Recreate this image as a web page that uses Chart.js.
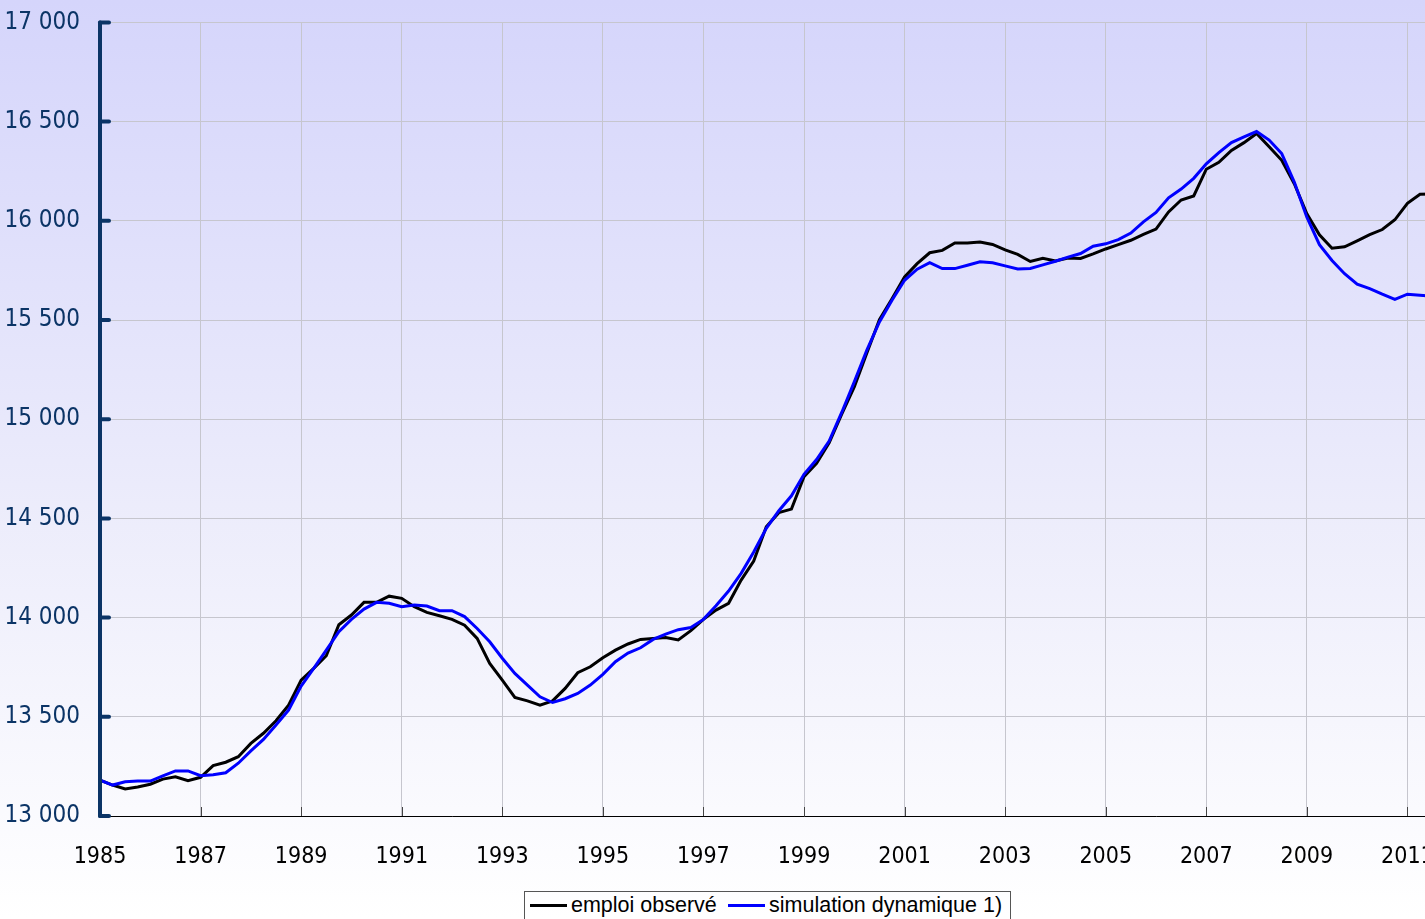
<!DOCTYPE html>
<html>
<head>
<meta charset="utf-8">
<script src="https://cdn.jsdelivr.net/npm/chart.js@4/dist/chart.umd.min.js"></script>
<style>
  html, body { margin: 0; padding: 0; width: 1425px; height: 919px; overflow: hidden; }
  body { background: linear-gradient(to bottom, #d5d5fb 0%, #ececfb 55%, #ffffff 100%); position: relative; }
  #wrap { position: absolute; left: 0; top: -12px; width: 1520px; height: 892px; }
  #legend { position: absolute; left: 524px; top: 891px; width: 487px; height: 40px; border: 1px solid #555;
    font-family: 'Liberation Sans', Arial, sans-serif; font-size: 21.5px; color: #000; box-sizing: border-box; }
  .item { position: absolute; top: 1px; white-space: nowrap; }
  .swatch { display: inline-block; width: 37px; height: 3px; vertical-align: middle; margin-right: 4px; position: relative; top: -1px; }
</style>
</head>
<body>
<div id="wrap"><canvas id="c" width="1520" height="892"></canvas></div>
<div id="legend">
  <span class="item" style="left:5px"><span class="swatch" style="background:#000"></span>emploi observé</span>
  <span class="item" style="left:203px"><span class="swatch" style="background:#0000ff"></span>simulation dynamique 1)</span>
</div>
<script>
// Quarterly series, starting 1985 Q1 (thousands of jobs)
const startYear = 1985;
const seriesNames = ['emploi observé', 'simulation dynamique 1)'];
const emploiObserve = [
  13181,13156,13136,13146,13160,13186,13198,13178,13195,13254,13271,13299,13366,13417,13480,13559,
  13685,13744,13808,13964,14013,14077,14077,14108,14097,14055,14026,14009,13991,13962,13895,13769,
  13685,13598,13580,13559,13580,13643,13722,13752,13798,13836,13867,13890,13895,13900,13887,13934,
  13991,14038,14072,14189,14285,14458,14529,14547,14710,14777,14881,15026,15163,15334,15502,15607,
  15717,15784,15839,15851,15888,15888,15893,15881,15853,15831,15795,15811,15798,15812,15810,15833,
  15858,15880,15902,15931,15958,16045,16105,16125,16260,16295,16355,16394,16440,16373,16305,16187,
  16035,15929,15862,15869,15899,15930,15956,16005,16088,16134,16135
];
const simulationDynamique = [
  13181,13156,13173,13176,13176,13202,13227,13227,13203,13208,13218,13266,13328,13386,13459,13534,
  13655,13744,13836,13929,13991,14043,14077,14072,14055,14063,14058,14035,14035,14005,13945,13878,
  13795,13719,13660,13601,13572,13591,13618,13660,13714,13778,13821,13848,13890,13917,13939,13950,
  13991,14060,14134,14223,14331,14450,14539,14614,14722,14797,14890,15034,15188,15348,15490,15600,
  15700,15756,15789,15759,15759,15776,15793,15788,15773,15757,15760,15778,15796,15817,15835,15872,
  15884,15905,15938,15995,16042,16116,16160,16214,16287,16344,16394,16423,16450,16407,16339,16195,
  16018,15880,15800,15733,15681,15658,15630,15604,15630,15625,15620
];
const xTickYears = [1985,1987,1989,1991,1993,1995,1997,1999,2001,2003,2005,2007,2009,2011];
const yTickValues = [13000,13500,14000,14500,15000,15500,16000,16500,17000];

const toPoints = arr => arr.map((v, i) => ({ x: startYear + i / 4, y: v }));
const axisNavy = '#0b3466';
const fontNarrow = "'Liberation Sans Narrow', 'DejaVu Sans Condensed', sans-serif";

const axisDecor = {
  id: 'axisDecor',
  afterDatasetsDraw(chart) {
    const { ctx, chartArea: a, scales: { x, y } } = chart;
    ctx.save();
    ctx.strokeStyle = '#444';
    ctx.lineWidth = 1;
    xTickYears.forEach(yr => {
      const px = Math.round(x.getPixelForValue(yr)) + 0.5;
      ctx.beginPath(); ctx.moveTo(px, a.bottom); ctx.lineTo(px, a.bottom - 9); ctx.stroke();
    });
    ctx.strokeStyle = axisNavy;
    ctx.lineWidth = 4;
    ctx.lineCap = 'round';
    ctx.beginPath(); ctx.moveTo(a.left, y.getPixelForValue(17000)); ctx.lineTo(a.left, y.getPixelForValue(13000)); ctx.stroke();
    yTickValues.forEach(v => {
      const py = y.getPixelForValue(v);
      ctx.beginPath(); ctx.moveTo(a.left, py); ctx.lineTo(a.left + 9, py); ctx.stroke();
    });
    ctx.restore();
  }
};

new Chart(document.getElementById('c'), {
  type: 'line',
  data: {
    datasets: [
      { label: seriesNames[0], data: toPoints(emploiObserve), borderColor: '#000000', borderWidth: 3, pointRadius: 0, tension: 0, order: 2 },
      { label: seriesNames[1], data: toPoints(simulationDynamique), borderColor: '#0000ff', borderWidth: 3, pointRadius: 0, tension: 0, order: 1 }
    ]
  },
  options: {
    responsive: false,
    animation: false,
    layout: { padding: { top: 9, right: 12, left: 0, bottom: 0 } },
    plugins: { legend: { display: false }, tooltip: { enabled: false } },
    scales: {
      x: {
        type: 'linear', min: 1985, max: 2013,
        afterBuildTicks: s => { s.ticks = xTickYears.map(v => ({ value: v })); },
        afterFit: s => { s.height = 64; },
        grid: { color: '#c6c6ce', lineWidth: 1, drawTicks: false },
        border: { display: true, color: '#000', width: 1 },
        ticks: { padding: 27, color: '#000', font: { family: fontNarrow, size: 23 }, callback: v => String(v), maxRotation: 0, autoSkip: false }
      },
      y: {
        min: 13000, max: 17000,
        afterBuildTicks: s => { s.ticks = yTickValues.map(v => ({ value: v })); },
        afterFit: s => { s.width = 100; },
        grid: { color: '#c6c6ce', lineWidth: 1, drawTicks: false },
        border: { display: false },
        ticks: { padding: 20, color: axisNavy, font: { family: fontNarrow, size: 24 },
          callback: v => String(v).replace(/\B(?=(\d{3})+(?!\d))/g, '\u00a0') }
      }
    }
  },
  plugins: [axisDecor]
});
</script>
</body>
</html>
